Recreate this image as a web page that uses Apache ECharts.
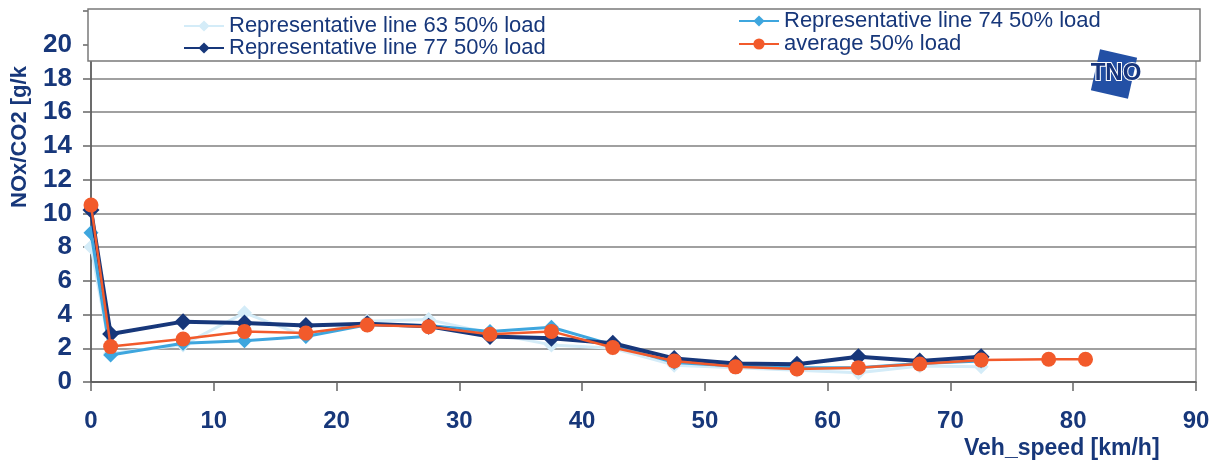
<!DOCTYPE html>
<html>
<head>
<meta charset="utf-8">
<script src="https://cdn.jsdelivr.net/npm/echarts@6/dist/echarts.min.js"></script>
<style>
  html, body { margin: 0; padding: 0; background: #ffffff; }
  #chart { width: 1216px; height: 461px; }
</style>
</head>
<body>
<div id="chart"></div>
<script>
// Vehicle speed bins [km/h]
const speed = [0, 1.6, 7.5, 12.5, 17.5, 22.5, 27.5, 32.5, 37.5, 42.5, 47.5, 52.5, 57.5, 62.5, 67.5, 72.5, 78, 81];

// NOx/CO2 per speed bin
const line63 = [8.0, 1.7, 2.2, 4.1, 2.7, 3.6, 3.7, 2.9, 2.2, 2.0, 1.0, 0.85, 0.7, 0.55, 0.95, 0.9];
const line74 = [8.85, 1.6, 2.3, 2.45, 2.7, 3.4, 3.35, 3.0, 3.25, 2.2, 1.15, 0.95, 0.85, 0.85, 1.1, 1.25];
const line77 = [10.2, 2.85, 3.58, 3.5, 3.35, 3.45, 3.3, 2.7, 2.6, 2.3, 1.4, 1.1, 1.05, 1.5, 1.25, 1.5];
const average = [10.5, 2.1, 2.55, 3.0, 2.9, 3.38, 3.28, 2.83, 3.0, 2.05, 1.25, 0.9, 0.77, 0.85, 1.07, 1.3, 1.35, 1.35];

const seriesNames = [
  'Representative line 63 50% load',
  'Representative line 74 50% load',
  'Representative line 77 50% load',
  'average 50% load'
];

const NAVY = '#17377a';
const FONT = '"Liberation Sans", Arial, sans-serif';

function pairs(values) {
  return values.map((v, i) => [speed[i], v]);
}

const legendText = { fontSize: 22, color: NAVY, fontFamily: FONT, lineHeight: 22 };

const chart = echarts.init(document.getElementById('chart'), null, { renderer: 'canvas' });

chart.setOption({
  animation: false,
  backgroundColor: '#ffffff',
  grid: {
    left: 91, right: 20, top: 11, bottom: 79,
    show: true, borderColor: '#9a9a9a', borderWidth: 1.5, backgroundColor: 'transparent'
  },
  xAxis: {
    type: 'value', min: 0, max: 90, interval: 10,
    axisLine: { show: true, onZero: false, lineStyle: { color: '#555555', width: 1.5 } },
    axisTick: { show: true, length: 9, inside: false, lineStyle: { color: '#666666', width: 1.5 } },
    axisLabel: { margin: 27, fontSize: 24, fontWeight: 'bold', color: NAVY, fontFamily: FONT },
    splitLine: { show: false }
  },
  yAxis: {
    type: 'value', min: 0, max: 22, interval: 2,
    axisLine: { show: true, lineStyle: { color: '#555555', width: 1.5 } },
    axisTick: { show: true, length: 8, lineStyle: { color: '#666666', width: 1.5 } },
    axisLabel: {
      margin: 19, fontSize: 26, fontWeight: 'bold', color: NAVY, fontFamily: FONT,
      formatter: v => (v > 20 ? '' : String(v))
    },
    splitLine: { show: true, lineStyle: { color: '#808080', width: 1.5 } }
  },
  legend: [
    {
      data: [seriesNames[0], seriesNames[2]],
      orient: 'vertical', left: 183, top: 15, padding: 0,
      itemWidth: 40, itemHeight: 14, itemGap: 0,
      textStyle: legendText, z: 6
    },
    {
      data: [seriesNames[1], seriesNames[3]],
      orient: 'vertical', left: 738, top: 10, padding: 0,
      itemWidth: 40, itemHeight: 14, itemGap: 1,
      textStyle: legendText, z: 6
    }
  ],
  graphic: [
    // legend frame
    {
      type: 'rect', z: 5,
      shape: { x: 88, y: 9, width: 1112, height: 52 },
      style: { fill: '#ffffff', stroke: '#7a7a7a', lineWidth: 1.5 }
    },
    // TNO logo
    {
      type: 'rect', z: 7,
      x: 1114, y: 74, originX: 0, originY: 0, rotation: -0.22,
      shape: { x: -19, y: -21, width: 38, height: 42 },
      style: { fill: '#2350a5' }
    },
    {
      type: 'text', z: 8, x: 1116, y: 73,
      style: {
        text: 'TNO', fontSize: 24, fontWeight: 'bold', fontFamily: FONT,
        fill: '#17357d', stroke: '#ffffff', lineWidth: 2,
        align: 'center', verticalAlign: 'middle'
      }
    },
    // y-axis title
    {
      type: 'text', x: 20, y: 137, rotation: Math.PI / 2, z: 5,
      style: {
        text: 'NOx/CO2 [g/k', fontSize: 22, fontWeight: 'bold', fontFamily: FONT,
        fill: NAVY, align: 'center', verticalAlign: 'middle'
      }
    },
    // x-axis title
    {
      type: 'text', x: 964, y: 449, z: 5,
      style: {
        text: 'Veh_speed [km/h]', fontSize: 23, fontWeight: 'bold', fontFamily: FONT,
        fill: NAVY, align: 'left', verticalAlign: 'middle'
      }
    }
  ],
  series: [
    {
      name: seriesNames[0], type: 'line', data: pairs(line63),
      symbol: 'diamond', symbolSize: 15,
      lineStyle: { color: '#d4ecf8', width: 3 },
      itemStyle: { color: '#d4ecf8' }, z: 2
    },
    {
      name: seriesNames[1], type: 'line', data: pairs(line74),
      symbol: 'diamond', symbolSize: 15,
      lineStyle: { color: '#3ea6de', width: 3 },
      itemStyle: { color: '#3ea6de' }, z: 3
    },
    {
      name: seriesNames[2], type: 'line', data: pairs(line77),
      symbol: 'diamond', symbolSize: 17,
      lineStyle: { color: NAVY, width: 4 },
      itemStyle: { color: NAVY }, z: 4
    },
    {
      name: seriesNames[3], type: 'line', data: pairs(average),
      symbol: 'circle', symbolSize: 15,
      lineStyle: { color: '#f25a2b', width: 2.5 },
      itemStyle: { color: '#f25a2b' }, z: 5
    }
  ]
});
</script>
</body>
</html>
